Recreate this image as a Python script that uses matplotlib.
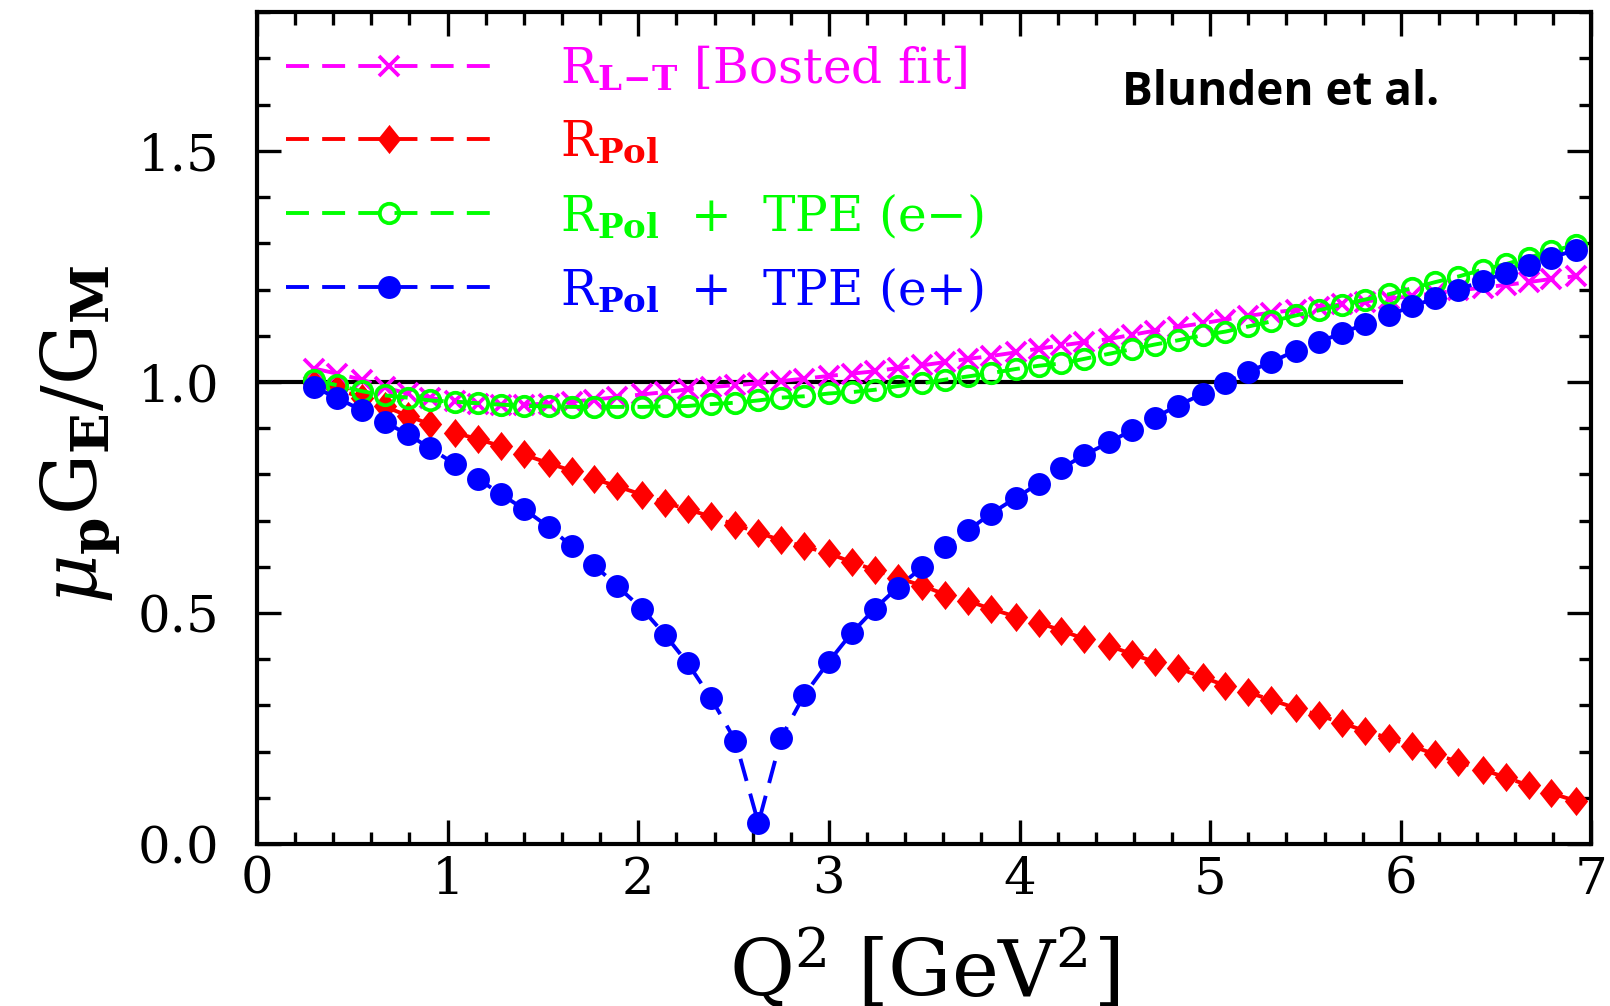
import matplotlib
matplotlib.use("Agg")
import matplotlib.pyplot as plt
from matplotlib.path import Path
from matplotlib.ticker import MultipleLocator

# Q^2 grid [GeV^2]
q2 = [0.30, 0.42, 0.55, 0.67, 0.79, 0.91, 1.04, 1.16, 1.28, 1.40,
      1.53, 1.65, 1.77, 1.89, 2.02, 2.14, 2.26, 2.38, 2.51, 2.63,
      2.75, 2.87, 3.00, 3.12, 3.24, 3.36, 3.49, 3.61, 3.73, 3.85,
      3.98, 4.10, 4.22, 4.34, 4.47, 4.59, 4.71, 4.83, 4.96, 5.08,
      5.20, 5.32, 5.45, 5.57, 5.69, 5.81, 5.94, 6.06, 6.18, 6.30,
      6.43, 6.55, 6.67, 6.79, 6.92]

# mu_p G_E / G_M ratios
r_lt_bosted = [1.029, 1.018, 1.005, 0.988, 0.975, 0.965, 0.958, 0.953, 0.951, 0.951,
               0.953, 0.957, 0.962, 0.967, 0.973, 0.978, 0.984, 0.989, 0.993, 0.997,
               1.002, 1.007, 1.013, 1.018, 1.023, 1.030, 1.036, 1.043, 1.050, 1.056,
               1.064, 1.072, 1.079, 1.086, 1.093, 1.102, 1.111, 1.119, 1.127, 1.135,
               1.143, 1.150, 1.156, 1.162, 1.168, 1.174, 1.180, 1.186, 1.192, 1.198,
               1.204, 1.210, 1.216, 1.223, 1.229]

r_pol = [0.995, 0.985, 0.966, 0.947, 0.927, 0.908, 0.890, 0.876, 0.861, 0.843,
         0.824, 0.808, 0.790, 0.774, 0.756, 0.739, 0.724, 0.709, 0.691, 0.674,
         0.657, 0.644, 0.629, 0.610, 0.593, 0.576, 0.559, 0.540, 0.526, 0.509,
         0.492, 0.479, 0.462, 0.444, 0.429, 0.411, 0.394, 0.381, 0.361, 0.343,
         0.328, 0.312, 0.294, 0.279, 0.262, 0.245, 0.229, 0.212, 0.194, 0.178,
         0.161, 0.144, 0.127, 0.110, 0.093]

r_pol_tpe_em = [1.004, 0.993, 0.980, 0.971, 0.966, 0.960, 0.957, 0.954, 0.951, 0.948,
                0.947, 0.946, 0.946, 0.946, 0.946, 0.947, 0.948, 0.952, 0.955, 0.960,
                0.966, 0.969, 0.975, 0.978, 0.983, 0.991, 0.997, 1.005, 1.012, 1.019,
                1.028, 1.035, 1.040, 1.050, 1.061, 1.071, 1.081, 1.090, 1.101, 1.109,
                1.120, 1.131, 1.144, 1.155, 1.167, 1.178, 1.190, 1.203, 1.216, 1.228,
                1.243, 1.255, 1.269, 1.284, 1.296]

r_pol_tpe_ep = [0.989, 0.965, 0.939, 0.913, 0.887, 0.856, 0.822, 0.790, 0.757, 0.725,
                0.686, 0.645, 0.603, 0.558, 0.509, 0.453, 0.391, 0.317, 0.223, 0.045,
                0.230, 0.322, 0.395, 0.457, 0.509, 0.555, 0.599, 0.643, 0.679, 0.715,
                0.749, 0.780, 0.813, 0.842, 0.869, 0.896, 0.923, 0.949, 0.974, 0.998,
                1.022, 1.043, 1.068, 1.086, 1.106, 1.125, 1.145, 1.164, 1.181, 1.200,
                1.218, 1.236, 1.252, 1.269, 1.286]

# reference line at unity
unity_x = [0.0, 6.0]
unity_y = [1.0, 1.0]

labels = [
    r"$\mathrm{R}_{\mathbf{L\!-\!T}}$ [Bosted fit]",
    r"$\mathrm{R}_{\mathbf{Pol}}$",
    r"$\mathrm{R}_{\mathbf{Pol}}$  +  TPE (e$-$)",
    r"$\mathrm{R}_{\mathbf{Pol}}$  +  TPE (e+)",
]

plt.rcParams["font.family"] = ["DejaVu Serif"]
plt.rcParams["mathtext.fontset"] = "dejavuserif"

fig = plt.figure(figsize=(16.10, 10.06), dpi=100)
fig.patch.set_facecolor("white")
ax = fig.add_axes([0.1596, 0.161, 0.9885 - 0.1596, 0.9878 - 0.161])

lw = 2.8
dash = (0, (5.9, 3.4))
diamond = Path([(0, 1), (0.8, 0), (0, -1), (-0.8, 0), (0, 1)],
               [Path.MOVETO, Path.LINETO, Path.LINETO, Path.LINETO, Path.CLOSEPOLY])

ax.plot(unity_x, unity_y, color="black", lw=3.0, zorder=1)

h1, = ax.plot(q2, r_lt_bosted, color="#FF00FF", ls=dash, lw=lw,
              marker="x", ms=15, mew=2.7, zorder=2)
h2, = ax.plot(q2, r_pol, color="#FF0000", ls=dash, lw=lw,
              marker=diamond, ms=21, mew=0, zorder=3)
h3, = ax.plot(q2, r_pol_tpe_em, color="#00FF00", ls=dash, lw=lw,
              marker="o", ms=14, mfc="none", mew=2.7, zorder=4)
h4, = ax.plot(q2, r_pol_tpe_ep, color="#0000FF", ls=dash, lw=lw,
              marker="o", ms=16.5, mew=0, zorder=5)

ax.set_xlim(0, 7)
ax.set_ylim(0, 1.8)
ax.xaxis.set_major_locator(MultipleLocator(1))
ax.xaxis.set_minor_locator(MultipleLocator(0.2))
ax.yaxis.set_major_locator(MultipleLocator(0.5))
ax.yaxis.set_minor_locator(MultipleLocator(0.1))
ax.set_yticks([0.0, 0.5, 1.0, 1.5])
ax.set_yticklabels(["0.0", "0.5", "1.0", "1.5"])

ax.tick_params(which="both", direction="in", top=True, right=True,
               width=2.4, labelsize=37)
ax.tick_params(which="major", length=17)
ax.tick_params(which="minor", length=9)
ax.tick_params(axis="x", which="major", pad=8)
ax.tick_params(axis="y", which="major", pad=27)
for sp in ax.spines.values():
    sp.set_linewidth(3.0)

ax.set_xlabel(r"Q$^{2}$ [GeV$^{2}$]", fontsize=57)
ax.xaxis.set_label_coords(0.5, -0.1828)
ax.xaxis.label.set_va("baseline")

ax.set_ylabel(r"$\mu_{\mathbf{p}}\mathrm{G}_{\mathbf{E}}/\mathrm{G}_{\mathbf{M}}$",
              fontsize=55)
ax.yaxis.set_label_coords(-0.120, 0.493)
ax.yaxis.label.set_va("baseline")

leg_fs = 35
leg_px = leg_fs * 100 / 72
ax.legend([h1, h2, h3, h4], labels, loc="upper left",
          bbox_to_anchor=(0.0217, 0.962), frameon=False, fontsize=leg_fs,
          handlelength=207 / leg_px, handletextpad=67 / leg_px, labelspacing=0.52,
          borderpad=0, borderaxespad=0, numpoints=1, labelcolor="linecolor")

ax.text(0.648, 0.8886, "Blunden et al.", transform=ax.transAxes,
        fontsize=33, fontweight="bold", family="Open Sans", va="baseline", ha="left")

fig.savefig("out.png", dpi=100, facecolor="white")
